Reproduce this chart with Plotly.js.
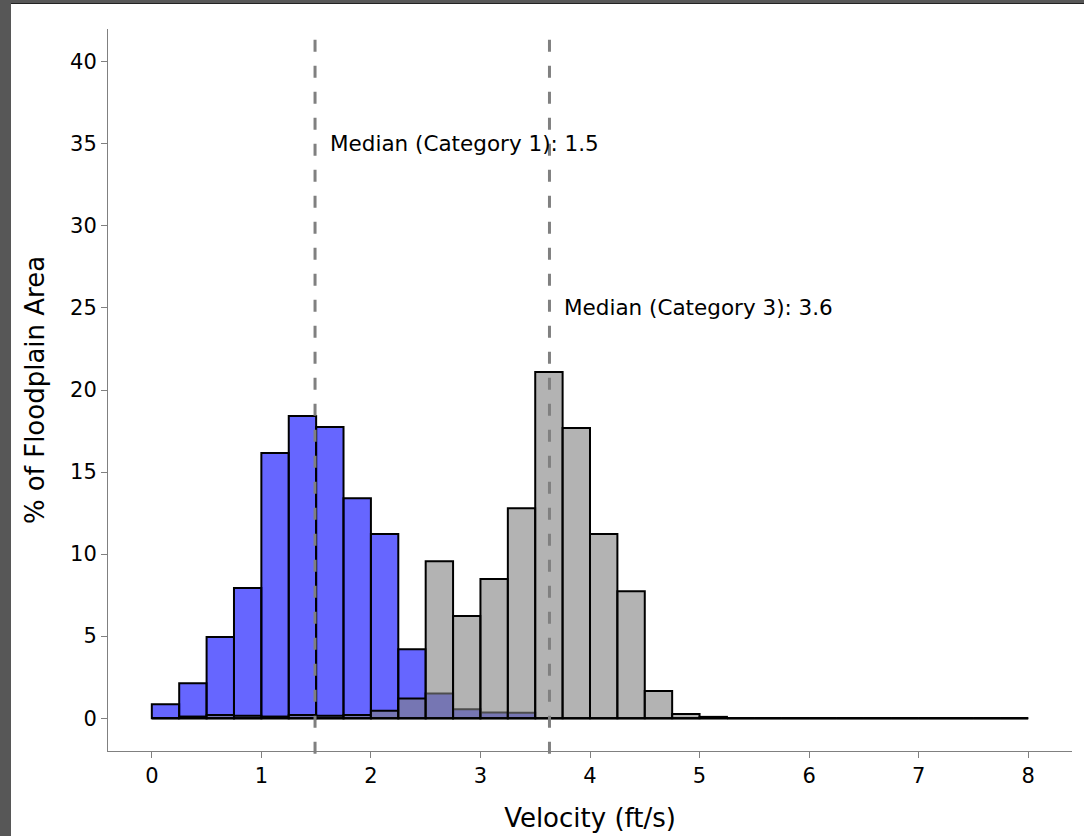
<!DOCTYPE html>
<html>
<head>
<meta charset="utf-8">
<script src="https://cdn.plot.ly/plotly-3.0.1.min.js"></script>
<style>
  html, body { margin: 0; padding: 0; background: #ffffff; }
  #chart { position: absolute; left: 0; top: 0; width: 1084px; height: 836px; }
  .strip { position: absolute; background: #575757; pointer-events: none; }
</style>
</head>
<body>
<div id="chart"></div>
<div class="strip" style="left:0;top:0;width:1084px;height:3px;"></div>
<div class="strip" style="left:0;top:3px;width:1084px;height:1px;background:#222;"></div>
<div class="strip" style="left:0;top:0;width:11px;height:836px;"></div>
<script>
// Bin starts (ft/s), bin width 0.25
const binStarts = [0, 0.25, 0.5, 0.75, 1, 1.25, 1.5, 1.75, 2, 2.25, 2.5, 2.75, 3, 3.25, 3.5, 3.75,
                   4, 4.25, 4.5, 4.75, 5, 5.25, 5.5, 5.75, 6, 6.25, 6.5, 6.75, 7, 7.25, 7.5, 7.75];
const binWidth = 0.25;

// % of floodplain area, Category 1
const category1 = [0.85, 2.13, 4.94, 7.93, 16.16, 18.41, 17.74, 13.41, 11.22, 4.2, 1.5, 0.55, 0.35, 0.33, 0, 0,
                   0, 0, 0, 0, 0, 0, 0, 0, 0, 0, 0, 0, 0, 0, 0, 0];
// % of floodplain area, Category 3
const category3 = [0, 0.1, 0.2, 0.15, 0.1, 0.2, 0.15, 0.2, 0.45, 1.2, 9.57, 6.22, 8.48, 12.8, 21.1, 17.68,
                   11.22, 7.74, 1.65, 0.25, 0.08, 0, 0, 0, 0, 0, 0, 0, 0, 0, 0, 0];

const medianValues = [1.49, 3.63];
const medianLabels = ['Median (Category 1): 1.5', 'Median (Category 3): 3.6'];
const medianLabelY = [35, 25];

const xTicks = [0, 1, 2, 3, 4, 5, 6, 7, 8];
const yTicks = [0, 5, 10, 15, 20, 25, 30, 35, 40];

const FONT = 'DejaVu Sans, Verdana, sans-serif';

const traces = [
  {
    type: 'bar', name: 'Category 1',
    x: binStarts, y: category1, width: binWidth, offset: 0,
    marker: { color: 'rgba(0,0,255,0.6)', line: { color: '#000000', width: 2 } },
    hoverinfo: 'x+y'
  },
  {
    type: 'bar', name: 'Category 3',
    x: binStarts, y: category3, width: binWidth, offset: 0,
    marker: { color: 'rgba(128,128,128,0.6)', line: { color: '#000000', width: 2 } },
    hoverinfo: 'x+y'
  }
];

const shapes = [
  { type: 'line', xref: 'x', yref: 'y', x0: binStarts[0], x1: binStarts[binStarts.length - 1] + binWidth,
    y0: 0, y1: 0, line: { color: '#000000', width: 2 }, layer: 'above' }
];
medianValues.forEach(function (m) {
  shapes.push({ type: 'line', xref: 'x', yref: 'paper', x0: m, x1: m, y0: 0.985, y1: -0.01,
    line: { color: '#808080', width: 3, dash: '12px,14px' }, layer: 'above' });
});

const annotations = medianValues.map(function (m, i) {
  return { x: m, y: medianLabelY[i], xref: 'x', yref: 'y', text: medianLabels[i],
    showarrow: false, xanchor: 'left', yanchor: 'middle', xshift: 13,
    font: { family: FONT, size: 21.5, color: '#000000' } };
});

const layout = {
  width: 1084, height: 836,
  margin: { l: 108, r: 12, t: 29, b: 85 },
  paper_bgcolor: 'rgba(0,0,0,0)', plot_bgcolor: '#ffffff',
  barmode: 'overlay', bargap: 0, showlegend: false,
  font: { family: FONT, size: 21, color: '#000000' },
  xaxis: {
    range: [-0.4, 8.4], tickvals: xTicks, ticktext: xTicks.map(String),
    showgrid: false, zeroline: false, showline: true, linecolor: '#808080', linewidth: 1,
    ticks: 'outside', ticklen: 6, tickcolor: '#808080', tickwidth: 1,
    tickfont: { family: FONT, size: 21, color: '#000000' },
    title: { text: 'Velocity (ft/s)', font: { family: FONT, size: 26, color: '#000000' }, standoff: 21 }
  },
  yaxis: {
    range: [-2, 42], tickvals: yTicks, ticktext: yTicks.map(String),
    showgrid: false, zeroline: false, showline: true, linecolor: '#808080', linewidth: 1,
    ticks: 'outside', ticklen: 6, tickcolor: '#808080', tickwidth: 1,
    tickfont: { family: FONT, size: 21, color: '#000000' },
    title: { text: '% of Floodplain Area', font: { family: FONT, size: 26, color: '#000000' }, standoff: 17 }
  },
  shapes: shapes,
  annotations: annotations
};

Plotly.newPlot('chart', traces, layout, { displayModeBar: false, staticPlot: true });
</script>
</body>
</html>
